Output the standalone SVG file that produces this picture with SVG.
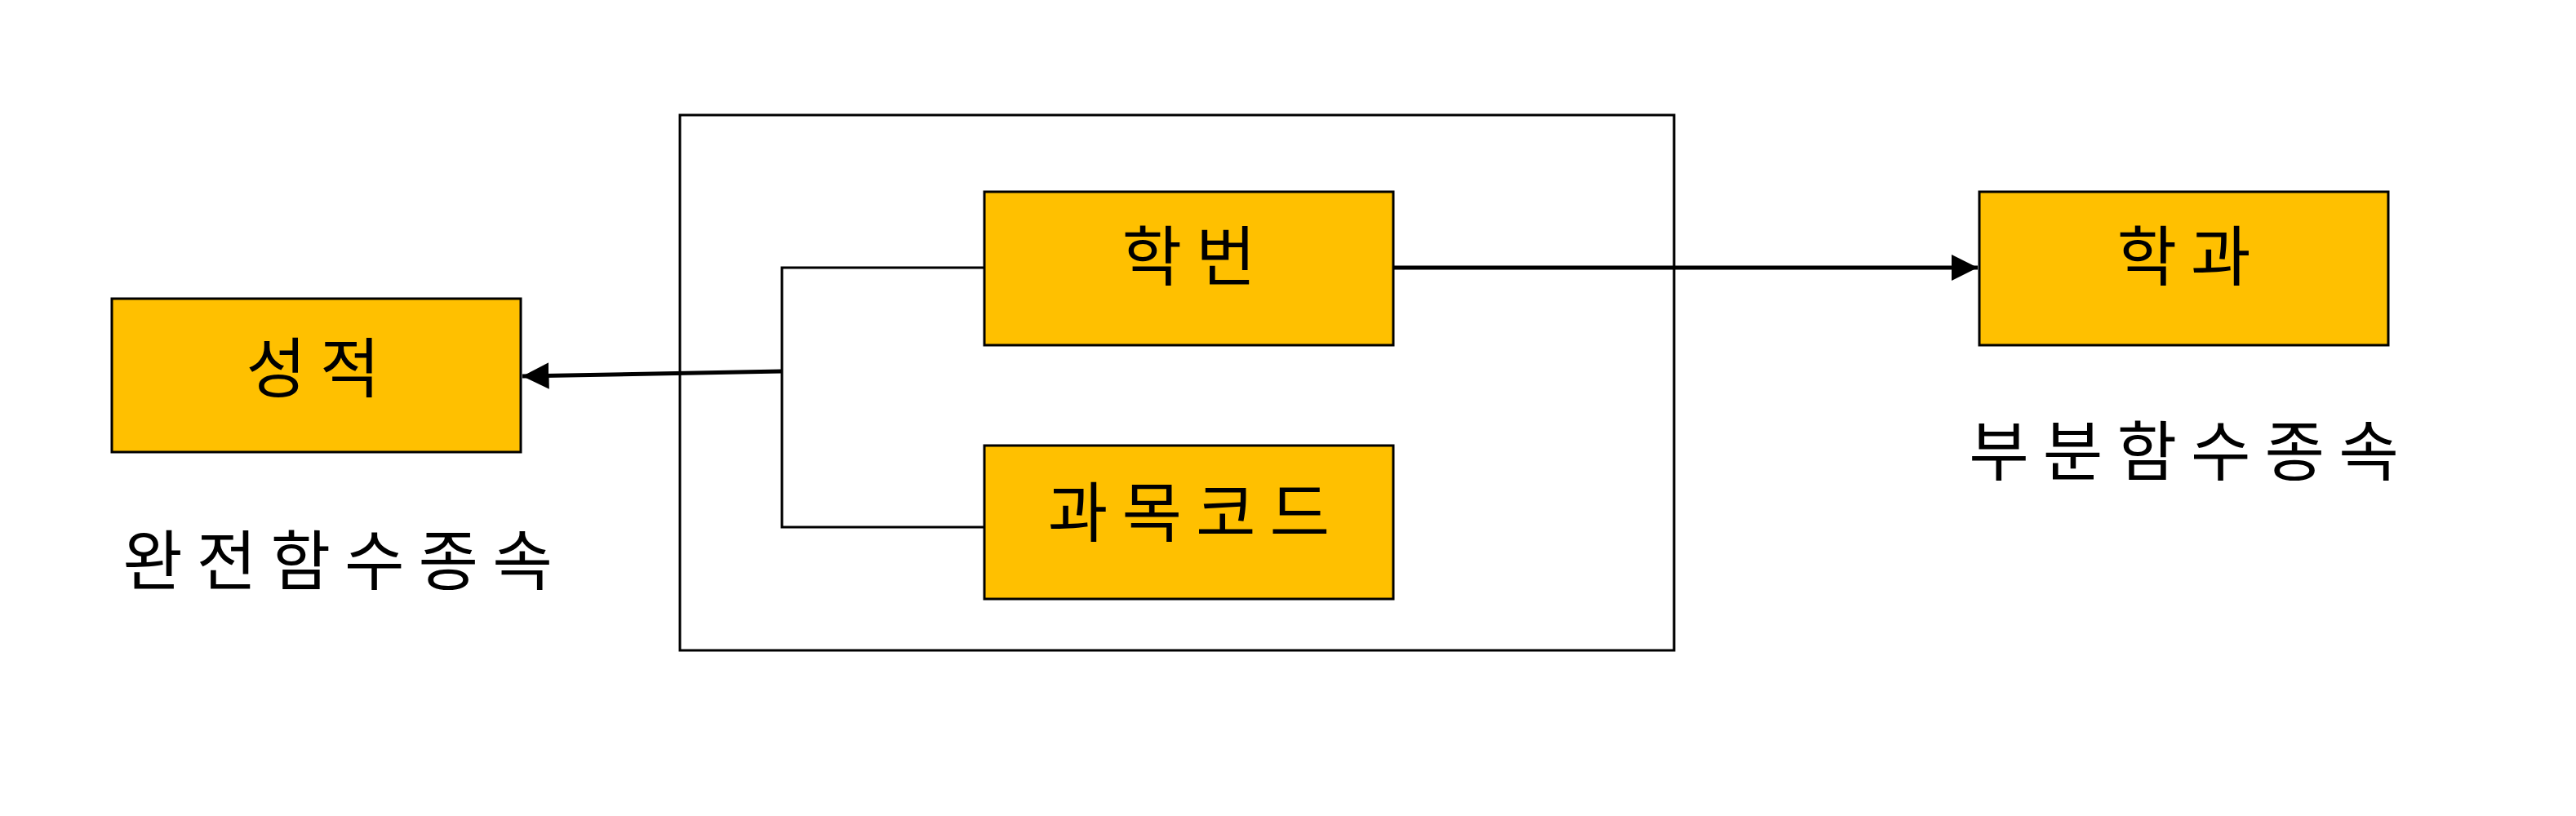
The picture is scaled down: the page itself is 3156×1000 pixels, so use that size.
<svg xmlns="http://www.w3.org/2000/svg" width="3156" height="1000" viewBox="0 0 3156 1000">
<style>
.box{fill:#FFC000;stroke:#000;stroke-width:3}
.frame{fill:none;stroke:#000;stroke-width:3}
.lbl{font-family:"Noto Sans CJK KR","Noto Sans",sans-serif;font-size:80px;letter-spacing:17px;fill:#000;text-anchor:middle}
.ln{stroke:#000;stroke-width:3;fill:none}
.arr{stroke:#000;stroke-width:5;fill:none;marker-end:url(#ah)}
</style>
<defs>
<marker id="ah" viewBox="0 0 10 10" refX="10" refY="5" markerWidth="6.5" markerHeight="6.5" markerUnits="strokeWidth" orient="auto">
<path d="M0,0 L10,5 L0,10 Z" fill="#000"/>
</marker>
</defs>
<rect width="3156" height="1000" fill="#fff"/>
<g id="frame"><rect class="frame" x="833" y="141" width="1218" height="656"/></g>
<g id="connectors">
<polyline class="ln" points="1206,328 958,328 958,646 1206,646"/>
<line class="arr" x1="958" y1="455" x2="640" y2="461"/>
<line class="arr" x1="1707" y1="328" x2="2423" y2="328"/>
</g>
<g id="n-grade"><rect class="box" x="137" y="366" width="501" height="188"/><text class="lbl" x="392" y="480">성적</text></g>
<g id="n-sid"><rect class="box" x="1206" y="235" width="501" height="188"/><text class="lbl" x="1465" y="343">학번</text></g>
<g id="n-code"><rect class="box" x="1206" y="546" width="501" height="188"/><text class="lbl" x="1465" y="657">과목코드</text></g>
<g id="n-dept"><rect class="box" x="2425" y="235" width="501" height="188"/><text class="lbl" x="2684" y="343">학과</text></g>
<g id="t-full"><text class="lbl" x="422" y="716">완전함수종속</text></g>
<g id="t-partial"><text class="lbl" x="2684" y="582">부분함수종속</text></g>
</svg>
